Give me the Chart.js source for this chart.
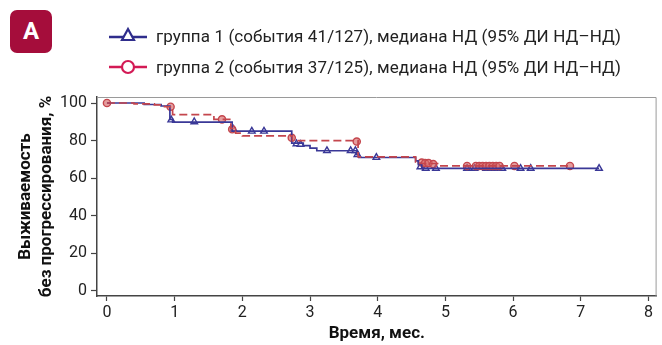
<!DOCTYPE html>
<html lang="ru">
<head>
<meta charset="UTF-8">
<title>Выживаемость без прогрессирования</title>
<script src="https://cdn.jsdelivr.net/npm/chart.js@4"></script>
<style>
    body { margin: 0; background: #fff; font-family: Roboto, "Noto Sans", sans-serif; }
    #wrap { position: relative; width: 662px; height: 345px; }
    #chart { position: absolute; left: 0; top: 0; }
    .panel {
        position: absolute; left: 10px; top: 10px; width: 42px; height: 43px;
        background: #a50d3b; border-radius: 7px; color: #fff;
        font: bold 24px Roboto, sans-serif; text-align: center; line-height: 43px;
    }
    .legend { position: absolute; left: 108px; font-size: 17px; letter-spacing: 0.1px; color: #222; white-space: nowrap; }
    .legend svg { vertical-align: middle; margin-right: 8px; }
    .legend span { vertical-align: middle; }
</style>
</head>
<body>
<div id="wrap">
    <canvas id="chart" width="662" height="345"></canvas>
    <div class="panel">A</div>
    <div class="legend" style="top:24px">
        <svg width="40" height="20"><line x1="1" y1="11" x2="39" y2="11" stroke="#2f2d8c" stroke-width="2.5"/><polygon points="20,3 26,14 14,14" fill="#fff" stroke="#2f2d8c" stroke-width="2.2"/></svg><span>группа 1 (события 41/127), медиана НД (95% ДИ НД–НД)</span>
    </div>
    <div class="legend" style="top:55px">
        <svg width="40" height="20"><line x1="1" y1="10" x2="39" y2="10" stroke="#d31a55" stroke-width="2.5"/><circle cx="20" cy="10" r="6" fill="#fff" stroke="#d31a55" stroke-width="2.2"/></svg><span>группа 2 (события 37/125), медиана НД (95% ДИ НД–НД)</span>
    </div>
</div>

<script>
    // группа 1: шаги кривой Каплана-Мейера
    const g1Time = [0, 0.55, 0.80, 0.93, 0.97, 1.85, 2.73, 2.90, 3.00, 3.10, 3.69, 3.72, 4.56, 4.60, 4.65, 7.27];
    const g1Surv = [100, 99.2, 98.4, 91.3, 89.8, 85.0, 78.7, 77.3, 76.0, 74.6, 72.5, 71.0, 69.2, 67.2, 65.2, 65.2];
    // группа 1: цензурированные
    const g1CensTime = [0.95, 1.29, 1.87, 2.14, 2.32, 2.80, 2.86, 3.25, 3.60, 3.67, 3.70, 3.98, 4.63, 4.71, 4.86, 5.32, 5.43, 5.60, 5.72, 5.84, 6.11, 6.26, 7.27];
    const g1CensSurv = [91, 90, 86, 85, 85, 78.3, 78, 74.6, 74.6, 74.6, 72.5, 71, 66, 65.2, 65.2, 65.2, 65.2, 65.2, 65.2, 65.2, 65.2, 65.2, 65.2];

    // группа 2
    const g2Time = [0, 0.40, 0.70, 0.85, 0.97, 1.58, 1.83, 1.90, 2.00, 2.74, 3.71, 4.56, 4.62, 4.90, 6.87];
    const g2Surv = [100, 99.5, 99, 98, 93.8, 91.3, 86.5, 84, 82.5, 80, 71.3, 68.5, 67.8, 66.5, 66.5];
    const g2CensTime = [0, 0.94, 1.70, 1.85, 2.73, 3.69, 4.65, 4.70, 4.75, 4.82, 5.32, 5.45, 5.50, 5.55, 5.60, 5.65, 5.70, 5.75, 5.80, 6.02, 6.84];
    const g2CensSurv = [100, 98, 91.3, 86, 81.5, 79.5, 68.3, 68, 68, 67.5, 66.5, 66.5, 66.5, 66.5, 66.5, 66.5, 66.5, 66.5, 66.5, 66.5, 66.5];

    const xTicks = [0, 1, 2, 3, 4, 5, 6, 7, 8];
    const yTicks = [0, 20, 40, 60, 80, 100];

    const blue = '#3a3897';
    const red = '#c4464d';

    const pts = (xs, ys) => xs.map((x, i) => ({ x, y: ys[i] }));

    const frame = {
        id: 'frame',
        afterDraw(chart) {
            const { ctx, chartArea: a } = chart;
            ctx.save();
            ctx.strokeStyle = '#9a9a9a';
            ctx.lineWidth = 1;
            ctx.beginPath();
            ctx.moveTo(a.left, a.top + 0.5);
            ctx.lineTo(a.right - 0.5, a.top + 0.5);
            ctx.lineTo(a.right - 0.5, a.bottom);
            ctx.stroke();
            ctx.restore();
        }
    };

    new Chart(document.getElementById('chart'), {
        type: 'scatter',
        data: {
            datasets: [
                {
                    data: pts(g2Time, g2Surv), showLine: true, stepped: true,
                    borderColor: red, borderWidth: 1.7, borderDash: [8, 4], pointRadius: 0
                },
                {
                    data: pts(g1Time, g1Surv), showLine: true, stepped: true,
                    borderColor: blue, borderWidth: 1.7, pointRadius: 0
                },
                {
                    data: pts(g2CensTime, g2CensSurv), pointStyle: 'circle', pointRadius: 3.6,
                    borderColor: red, borderWidth: 1.4, backgroundColor: 'rgba(215,105,105,0.65)'
                },
                {
                    data: pts(g1CensTime, g1CensSurv), pointStyle: 'triangle', pointRadius: 3.8,
                    borderColor: blue, borderWidth: 1.4, backgroundColor: 'rgba(255,255,255,0.8)'
                }
            ]
        },
        options: {
            responsive: false,
            animation: false,
            layout: { padding: { top: 97, right: 2, left: 0, bottom: 0 } },
            plugins: { legend: { display: false }, tooltip: { enabled: false } },
            scales: {
                x: {
                    type: 'linear', min: -0.147, max: 8.12,
                    afterBuildTicks: s => { s.ticks = xTicks.map(v => ({ value: v })); },
                    afterFit: s => { s.height = 49; },
                    grid: { drawOnChartArea: false, tickLength: 5, tickColor: '#444', tickWidth: 1.2 },
                    border: { color: '#444', width: 1.5 },
                    ticks: { color: '#222', font: { family: 'Roboto', size: 16 }, padding: 2, maxRotation: 0 },
                    title: { display: true, text: 'Время, мес.', color: '#111', font: { family: 'Roboto', size: 17, weight: 'bold' }, padding: { top: 0, bottom: 1 } }
                },
                y: {
                    min: -2.7, max: 103.2,
                    afterBuildTicks: s => { s.ticks = yTicks.map(v => ({ value: v })); },
                    afterFit: s => { s.width = 97; },
                    grid: { drawOnChartArea: false, tickLength: 6, tickColor: '#444', tickWidth: 1.2 },
                    border: { color: '#444', width: 1.5 },
                    ticks: { color: '#222', font: { family: 'Roboto', size: 16 }, padding: 4 },
                    title: { display: true, text: ['Выживаемость', 'без прогрессирования, %'], color: '#111', font: { family: 'Roboto', size: 17, weight: 'bold' }, padding: { top: 16, bottom: 4 } }
                }
            }
        },
        plugins: [frame]
    });
</script>
</body>
</html>
